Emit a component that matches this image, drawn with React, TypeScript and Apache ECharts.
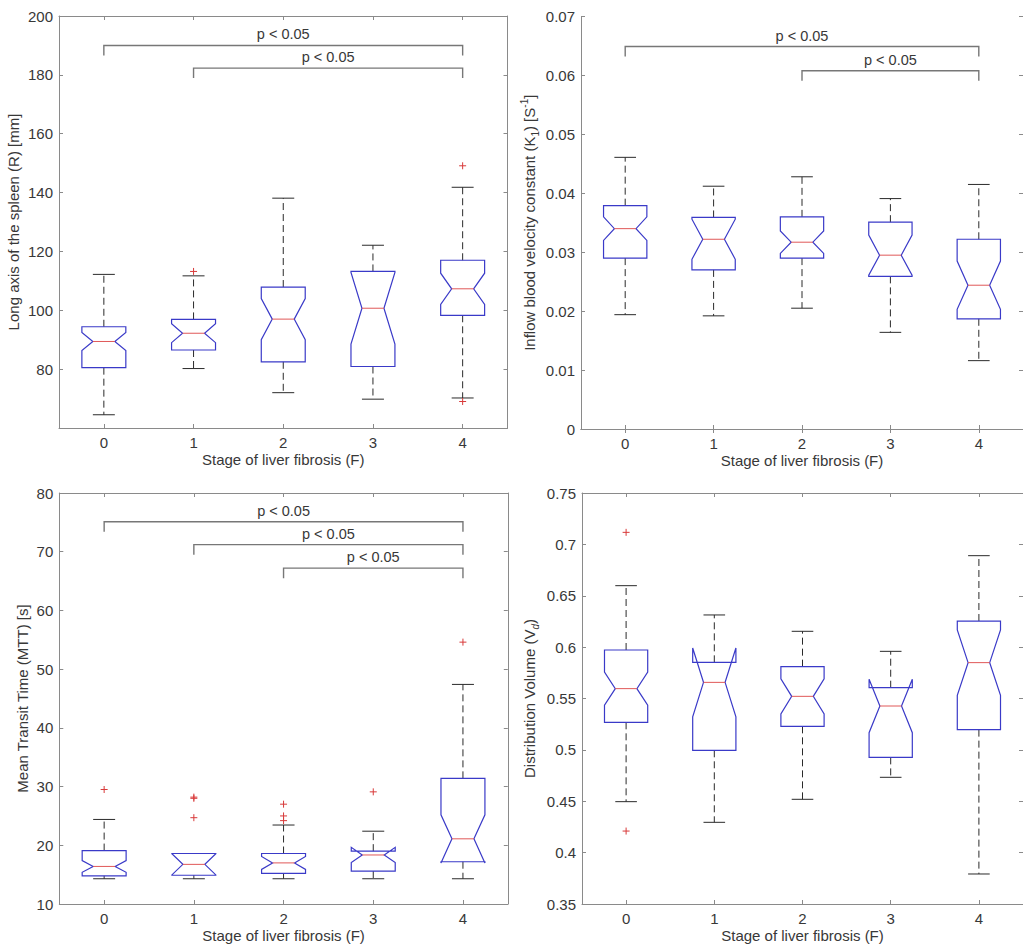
import React, { useEffect, useRef } from 'react';
import * as echarts from 'echarts';

// ---------- data ----------
const categories = ['0', '1', '2', '3', '4'];
const xAxisTitle = 'Stage of liver fibrosis (F)';
const pLabel = 'p < 0.05';

// Panel A: long axis of the spleen
const spleenLower = [64.5, 80.2, 72.0, 69.8, 70.2];
const spleenQ1 = [80.5, 86.5, 82.5, 80.9, 98.3];
const spleenMedian = [89.4, 92.2, 97.0, 100.7, 107.3];
const spleenQ3 = [94.4, 96.9, 107.9, 113.2, 117.0];
const spleenUpper = [112.2, 111.7, 138.1, 122.1, 141.8];
const spleenNotch = [3.1, 3.2, 7.0, 12.2, 5.3];
const spleenOutliers = [[1, 113.2], [4, 149.1], [4, 69.0]];
const spleenBrackets = [[0, 4, 190], [1, 4, 182.3]];

// Panel B: inflow blood velocity constant K1
const k1Lower = [0.0194, 0.0192, 0.0205, 0.0164, 0.0116];
const k1Q1 = [0.029, 0.027, 0.029, 0.0259, 0.0187];
const k1Median = [0.034, 0.0322, 0.0317, 0.0295, 0.0244];
const k1Q3 = [0.0379, 0.0359, 0.036, 0.0351, 0.0322];
const k1Upper = [0.0461, 0.0412, 0.0428, 0.0391, 0.0415];
const k1Notch = [0.002, 0.0034, 0.0019, 0.0034, 0.0041];
const k1Outliers: number[][] = [];
const k1Brackets = [[0, 4, 0.0649], [2, 4, 0.0608]];

// Panel C: mean transit time
const mttLower = [14.3, 14.3, 14.3, 14.3, 14.3];
const mttQ1 = [14.8, 14.9, 15.2, 15.6, 17.2];
const mttMedian = [16.4, 16.75, 17.0, 18.35, 21.1];
const mttQ3 = [19.1, 18.6, 18.6, 19.0, 31.4];
const mttUpper = [24.4, 18.6, 23.45, 22.4, 47.4];
const mttNotch = [1.0, 1.8, 1.1, 1.3, 4.1];
const mttOutliers = [[0, 29.5], [1, 28.0], [1, 28.2], [1, 24.7], [2, 27.0], [2, 25.0], [2, 24.2], [3, 29.1], [4, 54.6]];
const mttBrackets = [[0, 4, 75.1], [1, 4, 71.2], [2, 4, 67.2]];

// Panel D: distribution volume
const vdLower = [0.4496, 0.4295, 0.4519, 0.4733, 0.3792];
const vdQ1 = [0.5268, 0.4996, 0.5229, 0.4927, 0.5197];
const vdMedian = [0.5596, 0.5657, 0.5521, 0.5427, 0.5849];
const vdQ3 = [0.5972, 0.5852, 0.581, 0.5605, 0.6254];
const vdUpper = [0.6598, 0.6313, 0.6154, 0.5959, 0.689];
const vdNotch = [0.0162, 0.0335, 0.017, 0.026, 0.0318];
const vdOutliers = [[0, 0.7117], [0, 0.421]];
const vdBrackets: number[][] = [];

// ---------- styles ----------
const FONT = "'Liberation Sans', Arial, Helvetica, sans-serif";
const TEXT = '#383838';
const AXIS = '#8a8a8a';
const BLUE = '#3a3ac8';
const RED = '#e05858';
const PLUS = '#d83a3a';
const WHISK = '#2a2a2a';
const BRACKET = '#777777';

function fmtNum(v: number) {
  return String(parseFloat(v.toFixed(4)));
}

function renderBox(params: any, api: any) {
  const i = api.value(0);
  const lw = api.value(1);
  const q1 = api.value(2);
  const md = api.value(3);
  const q3 = api.value(4);
  const uw = api.value(5);
  const nt = api.value(6);
  const band = api.size([1, 0])[0];
  const w = band * 0.245;
  const x = api.coord([i, md])[0];
  const y = (v: number) => api.coord([i, v])[1];
  const yLw = y(lw), yQ1 = y(q1), yMd = y(md), yQ3 = y(q3), yUw = y(uw);
  const yNlo = y(md - nt), yNhi = y(md + nt);
  const dash = { stroke: WHISK, lineWidth: 1, lineDash: [7, 4] };
  const solid = { stroke: WHISK, lineWidth: 1 };
  return {
    type: 'group',
    children: [
      { type: 'line', shape: { x1: x, y1: yQ3, x2: x, y2: yUw }, style: dash },
      { type: 'line', shape: { x1: x, y1: yQ1, x2: x, y2: yLw }, style: dash },
      { type: 'line', shape: { x1: x - w / 2, y1: yUw, x2: x + w / 2, y2: yUw }, style: solid },
      { type: 'line', shape: { x1: x - w / 2, y1: yLw, x2: x + w / 2, y2: yLw }, style: solid },
      {
        type: 'polygon',
        shape: {
          points: [
            [x - w, yQ1], [x - w, yNlo], [x - w / 2, yMd], [x - w, yNhi], [x - w, yQ3],
            [x + w, yQ3], [x + w, yNhi], [x + w / 2, yMd], [x + w, yNlo], [x + w, yQ1],
          ],
        },
        style: { fill: 'none', stroke: BLUE, lineWidth: 1.2 },
      },
      { type: 'line', shape: { x1: x - w / 2, y1: yMd, x2: x + w / 2, y2: yMd }, style: { stroke: RED, lineWidth: 1 } },
    ],
  };
}

function renderPlus(params: any, api: any) {
  const p = api.coord([api.value(0), api.value(1)]);
  const s = 3.5;
  return {
    type: 'group',
    children: [
      { type: 'line', shape: { x1: p[0] - s, y1: p[1], x2: p[0] + s, y2: p[1] }, style: { stroke: PLUS, lineWidth: 1 } },
      { type: 'line', shape: { x1: p[0], y1: p[1] - s, x2: p[0], y2: p[1] + s }, style: { stroke: PLUS, lineWidth: 1 } },
    ],
  };
}

function renderBracket(params: any, api: any) {
  const a = api.coord([api.value(0), api.value(2)]);
  const b = api.coord([api.value(1), api.value(2)]);
  const drop = 10;
  return {
    type: 'group',
    children: [
      {
        type: 'polyline',
        shape: { points: [[a[0], a[1] + drop], [a[0], a[1]], [b[0], b[1]], [b[0], b[1] + drop]] },
        style: { stroke: BRACKET, lineWidth: 1.4, fill: 'none' },
      },
      {
        type: 'text',
        x: (a[0] + b[0]) / 2,
        y: a[1] - 11,
        style: { text: pLabel, fontSize: 14.5, fontFamily: FONT, fill: TEXT, align: 'center', verticalAlign: 'middle' },
      },
    ],
  };
}

const panels = [
  {
    grid: { left: 59, top: 16, width: 448.5, height: 412 },
    min: 60, max: 200, interval: 20, hideMin: true,
    name: 'Long axis of the spleen (R) [mm]', nameGap: 29,
    lower: spleenLower, q1: spleenQ1, median: spleenMedian, q3: spleenQ3, upper: spleenUpper, notch: spleenNotch,
    outliers: spleenOutliers, brackets: spleenBrackets,
  },
  {
    grid: { left: 581, top: 16.5, width: 448.5, height: 412.5 },
    min: 0, max: 0.07, interval: 0.01, hideMin: false,
    name: 'Inflow blood velocity constant (K{sub|1}) [S{sup|-1}]', nameGap: 41,
    lower: k1Lower, q1: k1Q1, median: k1Median, q3: k1Q3, upper: k1Upper, notch: k1Notch,
    outliers: k1Outliers, brackets: k1Brackets,
  },
  {
    grid: { left: 59.3, top: 493, width: 448.5, height: 411 },
    min: 10, max: 80, interval: 10, hideMin: false,
    name: 'Mean Transit Time (MTT) [s]', nameGap: 20,
    lower: mttLower, q1: mttQ1, median: mttMedian, q3: mttQ3, upper: mttUpper, notch: mttNotch,
    outliers: mttOutliers, brackets: mttBrackets,
  },
  {
    grid: { left: 582, top: 493, width: 448.5, height: 411 },
    min: 0.35, max: 0.75, interval: 0.05, hideMin: false,
    name: 'Distribution Volume (V{subi|d})', nameGap: 42,
    lower: vdLower, q1: vdQ1, median: vdMedian, q3: vdQ3, upper: vdUpper, notch: vdNotch,
    outliers: vdOutliers, brackets: vdBrackets,
  },
];

function buildOption() {
  const grid: any[] = [];
  const xAxis: any[] = [];
  const yAxis: any[] = [];
  const series: any[] = [];
  const axisLine = { show: true, lineStyle: { color: AXIS, width: 1 } };
  panels.forEach((p, gi) => {
    grid.push(p.grid);
    xAxis.push({
      type: 'category', gridIndex: gi, data: categories, position: 'bottom',
      axisLine, axisTick: { show: true, inside: true, length: 4, alignWithLabel: true, lineStyle: { color: AXIS } },
      axisLabel: { color: TEXT, fontSize: 15, fontFamily: FONT, margin: 7 },
      name: xAxisTitle, nameLocation: 'middle', nameGap: 24,
      nameTextStyle: { color: TEXT, fontSize: 15, fontFamily: FONT },
      splitLine: { show: false },
    });
    xAxis.push({
      type: 'category', gridIndex: gi, data: categories, position: 'top',
      axisLine, axisTick: { show: true, inside: true, length: 4, alignWithLabel: true, lineStyle: { color: AXIS } },
      axisLabel: { show: false }, splitLine: { show: false },
    });
    yAxis.push({
      type: 'value', gridIndex: gi, position: 'left', min: p.min, max: p.max, interval: p.interval,
      axisLine, axisTick: { show: true, inside: true, length: 4, lineStyle: { color: AXIS } },
      axisLabel: {
        color: TEXT, fontSize: 15, fontFamily: FONT, margin: 6,
        formatter: (v: number) => (p.hideMin && Math.abs(v - p.min) < 1e-9 ? '' : fmtNum(v)),
      },
      splitLine: { show: false },
      name: p.name, nameLocation: 'middle', nameGap: p.nameGap,
      nameTextStyle: {
        color: TEXT, fontSize: 15, fontFamily: FONT, lineHeight: 21,
        rich: {
          sub: { fontSize: 10, fontFamily: FONT, color: TEXT, verticalAlign: 'bottom', lineHeight: 11 },
          subi: { fontSize: 10, fontStyle: 'italic', fontFamily: FONT, color: TEXT, verticalAlign: 'bottom', lineHeight: 11 },
          sup: { fontSize: 10, fontFamily: FONT, color: TEXT, verticalAlign: 'top', lineHeight: 11 },
        },
      },
    });
    yAxis.push({
      type: 'value', gridIndex: gi, position: 'right', min: p.min, max: p.max, interval: p.interval,
      axisLine, axisTick: { show: true, inside: true, length: 4, lineStyle: { color: AXIS } },
      axisLabel: { show: false }, splitLine: { show: false },
    });
    const xi = gi * 2;
    const yi = gi * 2;
    series.push({
      type: 'custom', xAxisIndex: xi, yAxisIndex: yi, renderItem: renderBox,
      data: categories.map((_, i) => [i, p.lower[i], p.q1[i], p.median[i], p.q3[i], p.upper[i], p.notch[i]]),
      encode: { x: 0, y: [1, 2, 3, 4, 5] }, silent: true,
    });
    if (p.outliers.length) {
      series.push({
        type: 'custom', xAxisIndex: xi, yAxisIndex: yi, renderItem: renderPlus,
        data: p.outliers, encode: { x: 0, y: 1 }, silent: true,
      });
    }
    if (p.brackets.length) {
      series.push({
        type: 'custom', xAxisIndex: xi, yAxisIndex: yi, renderItem: renderBracket,
        data: p.brackets, encode: { x: [0, 1], y: 2 }, silent: true,
      });
    }
  });
  return { animation: false, backgroundColor: '#ffffff', grid, xAxis, yAxis, series };
}

export default function App() {
  const ref = useRef<HTMLDivElement>(null);
  useEffect(() => {
    if (!ref.current) return;
    const chart = echarts.init(ref.current, undefined, { renderer: 'svg' });
    chart.setOption(buildOption() as any);
    return () => chart.dispose();
  }, []);
  return (
    <div
      ref={ref}
      style={{ position: 'fixed', left: 0, top: 0, width: 1023, height: 948, overflow: 'hidden', background: '#fff' }}
    />
  );
}
